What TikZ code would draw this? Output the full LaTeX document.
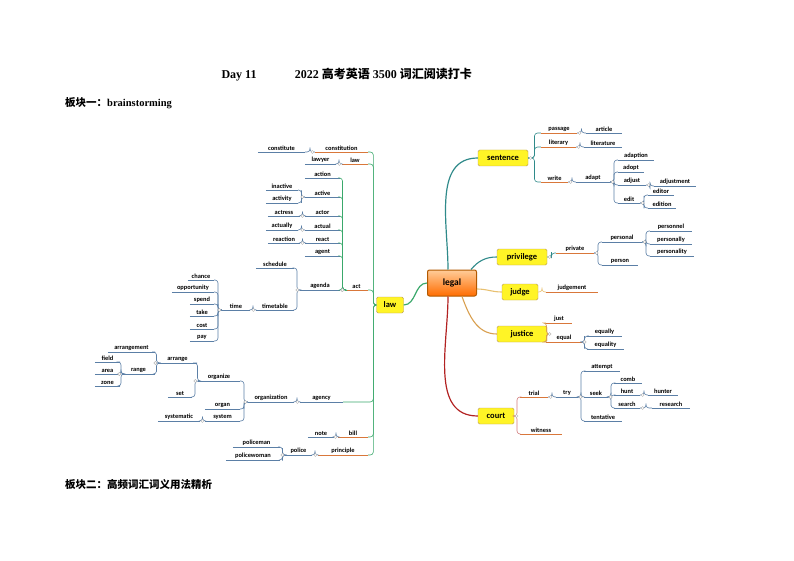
\documentclass[tikz,border=0pt]{standalone}
\usepackage{fontspec}
\setmainfont{Liberation Serif}
\newfontfamily\cjk{Noto Sans CJK SC}
\newfontfamily\carl{Carlito}
\usetikzlibrary{calc}
\definecolor{ub}{HTML}{5B7FA6}
\definecolor{uo}{HTML}{D9773A}
\definecolor{gl}{HTML}{3AA86B}
\definecolor{tl}{HTML}{2F8A8A}
\definecolor{rd}{HTML}{B22222}
\definecolor{jl}{HTML}{E8C070}
\definecolor{js}{HTML}{D9A050}
\tikzset{
 lf/.style={font=\carl\bfseries\fontsize{6.4}{7}\selectfont, inner sep=0.8pt, anchor=south,
   append after command={(\tikzlastnode.south west) edge[draw=#1, line width=0.9pt] (\tikzlastnode.south east)}},
 lf/.default=ub,
 mbox/.style={draw=jl!80!black, fill=yellow!85!white, rounded corners=1.5pt, font=\carl\bfseries\fontsize{8.5}{9}\selectfont, inner sep=2pt, minimum height=16pt},
 circ/.style={circle, draw=gray!60, fill=white, inner sep=0pt, minimum size=3pt},
 cn/.style={line width=0.6pt, rounded corners=3pt}
}
\newcommand\LL[6][ub]{\node[lf=#1, minimum width={(#4-#3)*1pt}] (#2) at ({(#3+#4)/2},#5) {#6};}
\newcommand\conn[3]{\draw[cn,#3] #1 -| ($#1!.5!#2$) |- #2;}
\newcommand\cl[3]{\conn{(#1.south west)}{(#2.south east)}{#3}\node[circ] at ($(#1.south west)+(-2.5,0)$) {};}
\newcommand\cR[3]{\conn{(#1.south east)}{(#2.south west)}{#3}\node[circ] at ($(#1.south east)+(2.5,0)$) {};}
\begin{document}
\begin{tikzpicture}[x=1pt,y=-1pt]
\path[use as bounding box] (0,0) rectangle (794,561);
\node[font=\bfseries\fontsize{12}{13}\selectfont, anchor=west] at (218,75) {Day 11\hspace{3.2em}2022 {\cjk 高考英语} 3500 {\cjk 词汇阅读打卡}};
\node[font=\bfseries\fontsize{10.5}{12}\selectfont, anchor=west, inner sep=0] at (65,103) {{\cjk 板块一：}brainstorming};
\node[font=\bfseries\fontsize{10.5}{12}\selectfont, anchor=west, inner sep=0] at (65,484) {\cjk 板块二：高频词汇词义用法精析};
% main nodes
\node[draw=orange!70!black, rounded corners=2pt, top color=orange!40, bottom color=orange!85!red, font=\carl\bfseries\fontsize{9.5}{10}\selectfont, minimum width=49pt, minimum height=26pt, line width=1pt] (legal) at (452,283) {legal};
\node[mbox, minimum width=27pt] (law) at (390,305) {law};
\node[mbox, minimum width=50pt] (sentence) at (503,158) {sentence};
\node[mbox, minimum width=50pt] (privilege) at (522,257) {privilege};
\node[mbox, minimum width=36pt] (judge) at (520,292) {judge};
\node[mbox, minimum width=50pt] (justice) at (522,334) {justice};
\node[mbox, minimum width=36pt] (court) at (496,416) {court};
\draw[gl, line width=1.2pt] (legal.west) to[out=180,in=0] (law.east);
\draw[tl, line width=1.2pt] ([xshift=-4pt]legal.north) to[out=90,in=180] (sentence.west);
\draw[tl, line width=1.1pt] ([xshift=-6pt]legal.north east) to[out=50,in=180] (privilege.west);
\draw[jl, line width=1.1pt] ([yshift=-6pt]legal.east) to[out=0,in=180] (judge.west);
\draw[js, line width=1.1pt] ([xshift=10pt]legal.south) to[out=-70,in=180] (justice.west);
\draw[rd, line width=1.2pt] ([xshift=-4pt]legal.south) to[out=-90,in=180] (court.west);
% law subtree
\LL[uo]{constitution}{315}{368}{152}{constitution}
\LL{constitute}{258}{305}{152}{constitute}
\LL[uo]{lawb}{342}{368}{164}{law}
\LL{lawyer}{305}{336}{164}{lawyer}
\LL[uo]{act}{345}{368}{290}{act}
\LL{action}{305}{340}{178}{action}
\LL{active}{305}{340}{197}{active}
\LL{inactive}{266}{298}{190}{inactive}
\LL{activity}{266}{298}{203}{activity}
\LL{actor}{305}{340}{216}{actor}
\LL{actress}{268}{300}{216}{actress}
\LL{actual}{305}{340}{230}{actual}
\LL{actually}{266}{298}{230}{actually}
\LL{react}{305}{340}{243}{react}
\LL{reaction}{268}{300}{243}{reaction}
\LL{agent}{305}{340}{256}{agent}
\LL{agenda}{300}{340}{290}{agenda}
\LL{schedule}{256}{294}{268}{schedule}
\LL{timetable}{256}{294}{310}{timetable}
\LL{time}{222}{250}{310}{time}
\LL{chance}{188}{214}{280}{chance}
\LL{opportunity}{172}{214}{292}{opportunity}
\LL{spend}{190}{214}{304}{spend}
\LL{take}{190}{214}{316}{take}
\LL{cost}{190}{214}{329}{cost}
\LL{pay}{190}{214}{341}{pay}
\LL{agency}{300}{343}{402}{agency}
\LL{organization}{248}{294}{402}{organization}
\LL{organize}{198}{240}{381}{organize}
\LL{organ}{205}{240}{409}{organ}
\LL{system}{205}{240}{421}{system}
\LL{systematic}{158}{200}{421}{systematic}
\LL{arrange}{158}{197}{363}{arrange}
\LL{set}{168}{192}{397}{set}
\LL{arrangement}{108}{155}{352}{arrangement}
\LL{range}{122}{155}{374}{range}
\LL{field}{95}{120}{362}{field}
\LL{area}{95}{120}{374}{area}
\LL{zone}{95}{120}{386}{zone}
\LL[uo]{bill}{338}{368}{437}{bill}
\LL{note}{308}{334}{437}{note}
\LL[uo]{principle}{318}{368}{455}{principle}
\LL{police}{285}{312}{455}{police}
\LL{policeman}{233}{280}{447}{policeman}
\LL{policewoman}{226}{280}{460}{policewoman}
\foreach \c in {constitution,lawb,act,agency,bill,principle}{\draw[cn,gl] (law.west) -- ++(-3,0) |- (\c.south east);}
\cl{constitution}{constitute}{ub}
\cl{lawb}{lawyer}{ub}
\foreach \c in {action,active,actor,actual,react,agent,agenda}{\cl{act}{\c}{gl}}
\foreach \c in {inactive,activity}{\cl{active}{\c}{ub}}
\cl{actor}{actress}{ub}
\cl{actual}{actually}{ub}
\cl{react}{reaction}{ub}
\foreach \c in {schedule,timetable}{\cl{agenda}{\c}{ub}}
\cl{timetable}{time}{ub}
\foreach \c in {chance,opportunity,spend,take,cost,pay}{\cl{time}{\c}{ub}}
\cl{agency}{organization}{ub}
\foreach \c in {organize,organ,system}{\cl{organization}{\c}{ub}}
\cl{system}{systematic}{ub}
\foreach \c in {arrange,set}{\cl{organize}{\c}{ub}}
\foreach \c in {arrangement,range}{\cl{arrange}{\c}{ub}}
\foreach \c in {field,area,zone}{\cl{range}{\c}{ub}}
\cl{bill}{note}{ub}
\cl{principle}{police}{ub}
\foreach \c in {policeman,policewoman}{\cl{police}{\c}{ub}}
% sentence subtree
\LL[uo]{passage}{541}{577}{133}{passage}
\LL{article}{586}{622}{133}{article}
\LL[uo]{literary}{541}{576}{147}{literary}
\LL{literature}{584}{622}{147}{literature}
\LL[uo]{write}{541}{568}{182}{write}
\LL{adapt}{576}{610}{182}{adapt}
\LL{adaption}{618}{654}{160}{adaption}
\LL{adopt}{618}{644}{172}{adopt}
\LL{adjust}{618}{646}{185}{adjust}
\LL{adjustment}{654}{696}{186}{adjustment}
\LL{edit}{618}{640}{203}{edit}
\LL{editor}{648}{674}{195}{editor}
\LL{edition}{648}{676}{208}{edition}
\foreach \c in {passage,literary,write}{\conn{(sentence.east)}{(\c.south west)}{tl,cn}}
\node[circ] at ($(sentence.east)+(2.5,0)$) {};
\cR{passage}{article}{ub}
\cR{literary}{literature}{ub}
\cR{write}{adapt}{ub}
\foreach \c in {adaption,adopt,adjust,edit}{\cR{adapt}{\c}{ub}}
\cR{adjust}{adjustment}{ub}
\foreach \c in {editor,edition}{\cR{edit}{\c}{ub}}
% privilege
\LL[uo]{private}{556}{594}{253}{private}
\LL{personal}{602}{642}{242}{personal}
\LL{person}{602}{638}{265}{person}
\LL{personnel}{650}{692}{231}{personnel}
\LL{personally}{650}{692}{244}{personally}
\LL{personality}{650}{694}{256}{personality}
\conn{(privilege.east)}{(private.south west)}{tl,cn}
\node[circ] at ($(privilege.east)+(2.5,0)$) {};
\foreach \c in {personal,person}{\cR{private}{\c}{ub}}
\foreach \c in {personnel,personally,personality}{\cR{personal}{\c}{ub}}
% judge
\LL[uo]{judgement}{546}{598}{292}{judgement}
\conn{(judge.east)}{(judgement.south west)}{jl,cn}
% justice
\LL[uo]{just}{546}{572}{323}{just}
\LL[uo]{equal}{546}{582}{342}{equal}
\LL{equally}{587}{622}{336}{equally}
\LL{equality}{587}{624}{349}{equality}
\foreach \c in {just,equal}{\conn{(justice.east)}{(\c.south west)}{js,cn}}
\node[circ] at ($(justice.east)+(2.5,0)$) {};
\foreach \c in {equally,equality}{\cR{equal}{\c}{ub}}
% court
\LL[uo]{trial}{520}{548}{397}{trial}
\LL[uo]{witness}{520}{562}{434}{witness}
\LL{try}{556}{578}{397}{try}
\LL{attempt}{584}{620}{371}{attempt}
\LL{seek}{584}{608}{397}{seek}
\LL{tentative}{584}{622}{421}{tentative}
\LL{comb}{614}{642}{383}{comb}
\LL{hunt}{614}{640}{395}{hunt}
\LL{search}{614}{640}{408}{search}
\LL{hunter}{648}{678}{395}{hunter}
\LL{research}{652}{690}{408}{research}
\foreach \c in {trial,witness}{\conn{(court.east)}{(\c.south west)}{rd!60,cn}}
\node[circ] at ($(court.east)+(2.5,0)$) {};
\cR{trial}{try}{ub}
\foreach \c in {attempt,seek,tentative}{\cR{try}{\c}{ub}}
\foreach \c in {comb,hunt,search}{\cR{seek}{\c}{ub}}
\cR{hunt}{hunter}{ub}
\cR{search}{research}{ub}
\end{tikzpicture}
\end{document}
